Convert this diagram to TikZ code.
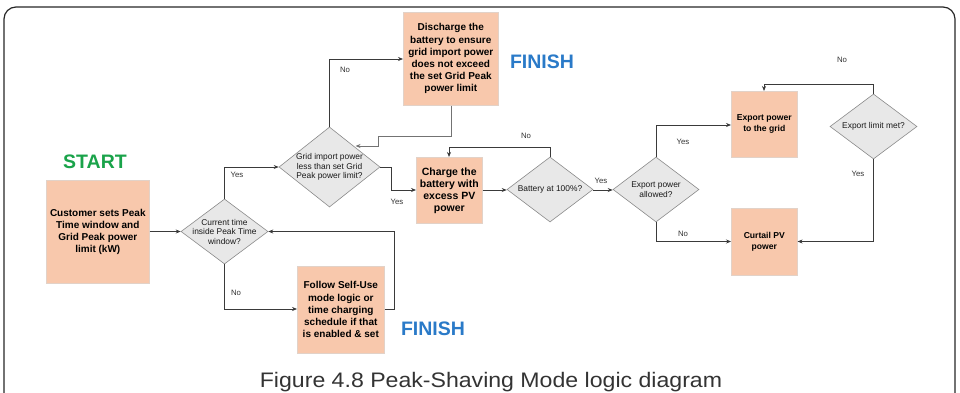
\documentclass[tikz,border=0pt]{standalone}
\usepackage{fontspec}
\setmainfont{Liberation Sans}
\usetikzlibrary{shapes.geometric,arrows.meta}
\definecolor{peach}{HTML}{F8C8AC}
\definecolor{peachline}{HTML}{E2D2C8}
\definecolor{dgray}{HTML}{E8E8E8}
\definecolor{dline}{HTML}{8A8A8A}
\definecolor{startgreen}{HTML}{1AA34A}
\definecolor{finblue}{HTML}{2A7AC8}
\definecolor{wire}{HTML}{3A3A3A}
\tikzset{
  boxnode/.style={draw=peachline, line width=0.6pt, fill=peach, inner sep=0pt, anchor=north west},
  boxtext/.style={align=center, font=\bfseries\fontsize{10}{12.2}\selectfont, text=black, inner sep=0pt},
  smalltext/.style={align=center, font=\bfseries\fontsize{8.6}{11}\selectfont, text=black, inner sep=0pt},
  dia/.style={diamond, draw=dline, line width=0.6pt, fill=dgray, inner sep=0pt, aspect=1},
  diatext/.style={align=center, font=\fontsize{8.4}{9.5}\selectfont, text=black!90, inner sep=0pt},
  lbl/.style={font=\fontsize{7.8}{9}\selectfont, text=black!80, inner sep=0pt},
  wireline/.style={draw=wire, line width=0.7pt, -{Stealth[length=5pt,width=4pt]}},
  bigword/.style={font=\bfseries\fontsize{19.5}{22}\selectfont, inner sep=0pt}
}
\begin{document}
\begin{tikzpicture}[x=1pt,y=-1pt]
\useasboundingbox (0,0) rectangle (960,393);
% frame
\draw[line width=1.2pt, draw=black!85, rounded corners=12pt] (4,7) rectangle (955,410);

% START / FINISH
\node[bigword, text=startgreen] (start) at (95,162) {START};
\node[bigword, text=finblue] (fin1) at (542,62) {FINISH};
\node[bigword, text=finblue] (fin2) at (433,328.5) {FINISH};

% boxes
\node[boxnode, minimum width=103, minimum height=103] (cust) at (46,180) {};
\node[boxtext] (custt) at (cust.center) {Customer sets Peak\\Time window and\\Grid Peak power\\limit (kW)};

\node[boxnode, minimum width=95, minimum height=93] (dis) at (403,12) {};
\node[boxtext] (dist) at (dis.center) {Discharge the\\battery to ensure\\grid import power\\does not exceed\\the set Grid Peak\\power limit};

\node[boxnode, minimum width=66, minimum height=66] (chg) at (416,157) {};
\node[boxtext, font=\bfseries\fontsize{10.5}{12}\selectfont] (chgt) at (chg.center) {Charge the\\battery with\\excess PV\\power};

\node[boxnode, minimum width=87, minimum height=87] (self) at (297,266) {};
\node[boxtext] (selft) at (self.center) {Follow Self-Use\\mode logic or\\time charging\\schedule if that\\is enabled \& set};

\node[boxnode, minimum width=66, minimum height=66] (exp) at (731,91) {};
\node[smalltext] (expt) at (exp.center) {Export power\\to the grid};

\node[boxnode, minimum width=66, minimum height=67] (cur) at (731,208) {};
\node[smalltext] (curt) at (cur.center) {Curtail PV\\power};

% diamonds
\node[dia, minimum width=87, minimum height=65] (cti) at (224.5,231.5) {};
\node[diatext] (ctit) at (cti.center) {Current time\\inside Peak Time\\window?};

\node[dia, minimum width=101, minimum height=80] (grd) at (329.5,167) {};
\node[diatext] (grdt) at (grd.center) {Grid import power\\less than set Grid\\Peak power limit?};

\node[dia, minimum width=86, minimum height=65] (bat) at (550,189.5) {};
\node[diatext] (batt) at (bat.center) {Battery at 100\%?};

\node[dia, minimum width=86, minimum height=65] (exa) at (656,189.5) {};
\node[diatext] (exat) at (exa.center) {Export power\\allowed?};

\node[dia, minimum width=87, minimum height=65] (lim) at (873.5,126.5) {};
\node[diatext] (limt) at (lim.center) {Export limit met?};

% connectors
\draw[wireline] (cust.east |- cti.west) -- (cti.west);
\draw[wireline] (cti.north) |- (grd.west);
\node[lbl] (y1) at (237,174.5) {Yes};
\draw[wireline] (cti.south) |- (self.west |- 0,309);
\node[lbl] (n1) at (236,292.5) {No};
\draw[wireline] (self.east |- 0,309) -- (394,309) |- (cti.east);

\draw[wireline] (grd.north) |- (dis.west |- 0,59);
\node[lbl] (n2) at (345,70) {No};
\draw[wireline, draw=black!55, line width=0.9pt] (dis.south -| 451,0) -- (451,136) -- (378,136) -- (378,146) -- (355.5,146);
\draw[wireline] (grd.east) -- (391,167) |- (chg.west |- 0,190);
\node[lbl] (y2) at (397,202) {Yes};

\draw[wireline] (chg.east |- 0,190) -- (bat.west |- 0,190);
\draw[wireline] (bat.north) -- (550,147) -| (449,0 |- chg.north);
\node[lbl] (n3) at (526,136) {No};
\draw[wireline] (bat.east |- 0,190) -- (exa.west |- 0,190);
\node[lbl] (y3) at (601,180.5) {Yes};

\draw[wireline] (exa.north) |- (exp.west |- 0,125);
\node[lbl] (y4) at (683,141.5) {Yes};
\draw[wireline] (exa.south) |- (cur.west |- 0,241.5);
\node[lbl] (n4) at (683,233.5) {No};

\draw[wireline] (lim.north) -- (873.5,84) -| (764,0 |- exp.north);
\node[lbl] (n5) at (842,60) {No};
\draw[wireline] (lim.south) |- (cur.east |- 0,241.5);
\node[lbl] (y5) at (858,174) {Yes};

% caption
\node[font=\fontsize{21}{24}\selectfont, text=black!80, inner sep=0pt, anchor=base, transform shape, xscale=1.1] (cap) at (491,387) {Figure 4.8 Peak-Shaving Mode logic diagram};
\end{tikzpicture}
\end{document}
